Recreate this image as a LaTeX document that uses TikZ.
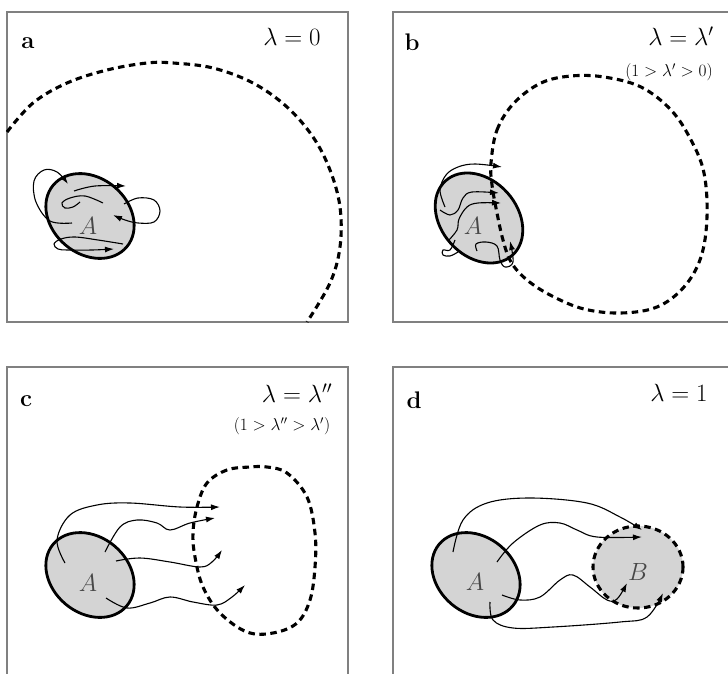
\documentclass[tikz,border=0pt]{standalone}
\usetikzlibrary{arrows.meta}
\begin{document}
\begin{tikzpicture}[x=1pt,y=-1pt,
  frame/.style={draw=black!50, line width=1.3pt},
  blob/.style={draw=black, fill=black!17, line width=2.8pt},
  dashloop/.style={draw=black, line width=3.1pt, dash pattern=on 6.5pt off 4.5pt},
  dashblob/.style={draw=black, fill=black!17, line width=3.1pt, dash pattern=on 6.5pt off 4.5pt},
  arr/.style={draw=black, line width=1.1pt, -{Latex[length=9pt,width=6pt]}},
  thin/.style={draw=black, line width=1.1pt},
  letter/.style={font=\fontsize{24}{28}\selectfont\bfseries, inner sep=0pt},
  lam/.style={font=\fontsize{23}{28}\selectfont, inner sep=0pt},
  cond/.style={font=\fontsize{17}{20}\selectfont, inner sep=0pt},
  blobtext/.style={font=\fontsize{25}{30}\selectfont, text=black!72, inner sep=0pt}]
\useasboundingbox (0,0) rectangle (728,674);
\clip (0,0) rectangle (728,674);

% ---------- frames ----------
\draw[frame] (7,12) rectangle (348,322);
\draw[frame] (393,12) rectangle (740,322);
\draw[frame] (7,367) rectangle (348,690);
\draw[frame] (393,367) rectangle (740,690);

% ---------- panel a ----------
\node[letter] (la) at (28,43) {a};
\node[lam] (pa) at (292,37) {$\lambda = 0$};
\draw[dashloop] plot[smooth, tension=0.6] coordinates {(7,132) (33,103) (67,83) (107,70) (147,63) (173,63) (213,68) (253,83) (287,107) (313,137) (330,170) (340,207) (340,247) (330,283) (307,322)};
\draw[blob, rotate around={-40:(90,216)}] (90,216) ellipse [x radius=48, y radius=38];
\node[blobtext] (Aa) at (88,226) {$A$};
\draw[arr] plot[smooth, tension=0.6] coordinates {(72,223) (50,221) (36,202) (34,181) (44,170) (57,172) (68,184)};
\draw[arr] plot[smooth, tension=0.6] coordinates {(74,191) (95,186) (126,186)};
\draw[thin] plot[smooth, tension=0.6] coordinates {(103,203) (85,196) (70,198) (62,203) (65,208) (73,207) (80,202)};
\draw[arr] plot[smooth, tension=0.6] coordinates {(124,204) (138,198) (154,200) (160,211) (154,222) (138,223) (125,220) (113,215)};
\draw[arr] plot[smooth, tension=0.6] coordinates {(123,244) (98,240) (75,237) (61,239) (54,244) (58,249) (68,250) (92,250) (114,249)};

% ---------- panel b ----------
\node[letter] (lb) at (412,42) {b};
\node[lam] (pb) at (681,36) {$\lambda = \lambda'$};
\node[cond] (cb) at (669,72) {$(1 > \lambda' > 0)$};
\draw[blob, rotate around={-48:(479,218)}] (479,218) ellipse [x radius=50, y radius=38];
\node[blobtext] (Ab) at (473,226) {$A$};
\draw[dashloop] plot[smooth cycle, tension=0.6] coordinates {(491,163) (497,130) (514,103) (541,83) (571,76) (604,77) (641,87) (671,110) (691,140) (704,173) (707,217) (701,257) (684,287) (657,307) (621,313) (584,309) (552,296) (527,280) (511,262) (503,240) (497,213) (492,185)};
\draw[arr] plot[smooth, tension=0.6] coordinates {(445,207) (440,190) (446,175) (458,167) (475,164) (502,167)};
\draw[arr] plot[smooth, tension=0.6] coordinates {(440,210) (450,215) (458,210) (463,198) (472,192) (499,193)};
\draw[arr] plot[smooth, tension=0.6] coordinates {(448,241) (457,230) (459,219) (467,207) (478,203) (501,203)};
\draw[arr] plot[smooth, tension=0.6] coordinates {(477,251) (476,244) (486,242) (497,246) (500,260) (505,267) (513,262) (510,241)};
\draw[thin] plot[smooth, tension=0.6] coordinates {(455,240) (450,250) (443,250) (443,255) (450,256) (458,252)};

% ---------- panel c ----------
\node[letter] (lc) at (26,401) {c};
\node[lam] (pc) at (297,393) {$\lambda = \lambda''$};
\node[cond] (cc) at (282,426) {$(1 > \lambda'' > \lambda')$};
\draw[blob, rotate around={-40:(90,575)}] (90,575) ellipse [x radius=48, y radius=38];
\node[blobtext] (Ac) at (88,583) {$A$};
\draw[dashloop] plot[smooth cycle, tension=0.6] coordinates {(250,467) (227,470) (207,483) (197,507) (193,533) (195,557) (203,587) (220,613) (247,632) (273,633) (297,623) (310,600) (315,567) (315,533) (307,497) (287,473) (267,467)};
\draw[arr] plot[smooth, tension=0.6] coordinates {(65,563) (57,540) (70,515) (97,505) (130,503) (180,507) (220,507)};
\draw[arr] plot[smooth, tension=0.6] coordinates {(105,552) (120,527) (137,520) (157,523) (170,530) (190,523) (215,518)};
\draw[arr] plot[smooth, tension=0.6] coordinates {(116,561) (140,558) (170,562) (200,567) (212,562) (222,550)};
\draw[arr] plot[smooth, tension=0.6] coordinates {(106,598) (127,608) (150,603) (170,597) (193,602) (217,605) (232,597) (245,585)};

% ---------- panel d ----------
\node[letter] (ld) at (414,400) {d};
\node[lam] (pd) at (679,393) {$\lambda = 1$};
\draw[blob, rotate around={-40:(476,575)}] (476,575) ellipse [x radius=48, y radius=38];
\node[blobtext] (Ad) at (475,582) {$A$};
\draw[dashblob] (638,567) ellipse [x radius=45, y radius=41];
\node[blobtext] (Bd) at (638,572) {$B$};
\draw[arr] plot[smooth, tension=0.6] coordinates {(453,552) (463,520) (487,503) (530,498) (587,503) (620,517) (642,530)};
\draw[arr] plot[smooth, tension=0.6] coordinates {(497,562) (513,543) (540,525) (560,523) (577,530) (597,537) (642,537)};
\draw[arr] plot[smooth, tension=0.6] coordinates {(502,595) (520,600) (540,597) (560,580) (573,575) (590,587) (607,600) (617,599) (627,583)};
\draw[arr] plot[smooth, tension=0.6] coordinates {(490,602) (493,620) (513,628) (553,627) (620,622) (647,617) (663,593)};
\end{tikzpicture}
\end{document}
